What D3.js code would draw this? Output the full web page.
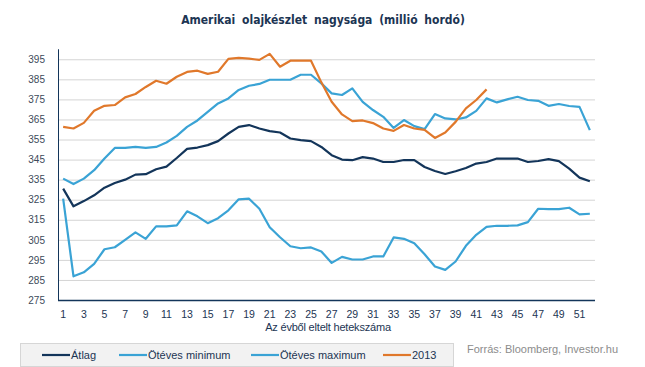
<!DOCTYPE html>
<html>
<head>
<meta charset="utf-8">
<script src="https://cdn.jsdelivr.net/npm/d3@7"></script>
<style>
  body { margin: 0; background: #fff; }
  svg { display: block; font-family: "Liberation Sans", Arial, sans-serif; }
</style>
</head>
<body>
<svg width="645" height="367"></svg>
<script>
var weeks = d3.range(1, 53);
var xTickWeeks = [1, 3, 5, 7, 9, 11, 13, 15, 17, 19, 21, 23, 25, 27, 29, 31, 33, 35, 37, 39, 41, 43, 45, 47, 49, 51];
var yTicks = [275, 285, 295, 305, 315, 325, 335, 345, 355, 365, 375, 385, 395];

var atlag = [330.5, 321.7, 324.3, 327.2, 331, 333.3, 335, 337.5, 337.7, 340.2, 341.5, 345.8, 350.3,
  351, 352.2, 354.2, 358, 361.3, 362.2, 360.5, 359.2, 358.5, 355.5, 354.7, 354.2, 351.3,
  347.2, 345, 344.7, 346.2, 345.5, 343.8, 343.8, 344.8, 344.7, 341.3, 339.3, 337.8, 339.2,
  340.8, 343, 343.8, 345.5, 345.5, 345.5, 343.8, 344.3, 345.2, 344.2, 340.5, 336, 334.2];

var minimum = [325.5, 286.8, 288.8, 293, 300.3, 301.3, 305, 308.7, 305.5, 311.7, 311.7, 312.2, 319.2,
  316.7, 313.3, 315.8, 319.7, 325.2, 325.5, 320.5, 311.3, 306.3, 301.8, 300.8, 301.2, 299.2,
  293.5, 296.5, 295.2, 295.2, 296.7, 296.7, 306.2, 305.5, 303.3, 297.8, 291.7, 290, 294.2,
  302, 307.5, 311.5, 312, 312, 312.2, 313.8, 320.5, 320.3, 320.3, 321, 317.7, 318];

var maximum = [335.5, 332.8, 335.5, 339.7, 345.5, 350.8, 350.8, 351.3, 350.8, 351.3, 353.5, 356.8, 361.3,
  364.5, 368.8, 373, 375.5, 379.7, 381.8, 382.7, 384.8, 384.8, 384.8, 387.3, 387.3, 383,
  378, 377.2, 380.5, 373.8, 369.7, 366.3, 360.8, 364.7, 361.7, 360.2, 367.7, 365.5, 365,
  366, 369.3, 375.5, 373.5, 375, 376.3, 374.7, 374.3, 371.8, 372.7, 371.7, 371.3, 359.7];

var ev2013 = [361.3, 360.5, 363.3, 369.3, 371.8, 372.2, 376, 377.7, 381.2, 384.3, 382.8, 386.3, 388.7,
  389.3, 387.7, 388.8, 395.2, 395.7, 395.3, 394.7, 397.7, 391.3, 394.3, 394.3, 394.3, 383.5,
  373.8, 367.5, 364.2, 364.5, 363.2, 360.5, 359.3, 362.2, 360.5, 359.8, 355.8, 358.5, 363.8,
  370.5, 374.7, 380];

var seriesNames = ["Átlag", "Ötéves minimum", "Ötéves maximum", "2013"];
var seriesColors = ["#13355a", "#3aa3d5", "#3aa3d5", "#e0782b"];

function drawChart() {
  var svg = d3.select("svg");
  var textColor = "#1c3553";

  var left = 58, right = 595, top = 49.25, bottom = 300;

  var x = d3.scaleBand().domain(weeks).range([left, right]);
  var y = d3.scaleLinear().domain([275, 400]).range([bottom, top]);

  // title
  svg.append("text")
    .attr("x", 323)
    .attr("y", 24)
    .attr("text-anchor", "middle")
    .style("font-family", "'DejaVu Sans Condensed', 'DejaVu Sans', sans-serif")
    .style("font-weight", "bold")
    .style("font-size", "12px")
    .style("word-spacing", "3px")
    .attr("fill", "#1c3553")
    .text("Amerikai olajkészlet nagysága (millió hordó)");

  // gridlines
  svg.append("g")
    .selectAll("line")
    .data(yTicks.filter(function(d) { return d > 275; }))
    .enter().append("line")
      .attr("x1", left)
      .attr("x2", right)
      .attr("y1", function(d) { return y(d) + 0.5; })
      .attr("y2", function(d) { return y(d) + 0.5; })
      .attr("stroke", "#d4d4d4")
      .attr("stroke-width", 1);

  // y axis
  var yAxis = svg.append("g")
    .attr("transform", "translate(" + left + ",0)")
    .call(d3.axisLeft(y).tickValues(yTicks).tickSize(0).tickPadding(13));
  yAxis.select(".domain").remove();
  yAxis.selectAll("text")
    .style("font-size", "10px")
    .attr("fill", "#3b4a5a");

  // x axis
  var xAxis = svg.append("g")
    .attr("transform", "translate(0," + bottom + ")")
    .call(d3.axisBottom(x).tickValues(xTickWeeks).tickSize(0).tickPadding(11));
  xAxis.select(".domain").remove();
  xAxis.selectAll("text")
    .style("font-size", "10.5px")
    .attr("fill", textColor);

  // axis lines
  svg.append("line")
    .attr("x1", left + 0.5).attr("x2", left + 0.5)
    .attr("y1", top).attr("y2", bottom + 0.5)
    .attr("stroke", "#13355a").attr("stroke-width", 1);
  svg.append("line")
    .attr("x1", left).attr("x2", right)
    .attr("y1", bottom + 0.5).attr("y2", bottom + 0.5)
    .attr("stroke", "#13355a").attr("stroke-width", 1.3);

  svg.append("text")
    .attr("x", 328)
    .attr("y", 331)
    .attr("text-anchor", "middle")
    .style("font-size", "11px")
    .style("letter-spacing", "-0.2px")
    .attr("fill", textColor)
    .text("Az évből eltelt hetekszáma");

  // series
  var line = d3.line()
    .x(function(d, i) { return x(weeks[i]) + x.bandwidth() / 2; })
    .y(function(d) { return y(d); });

  var allSeries = [atlag, minimum, maximum, ev2013];
  svg.append("g")
    .selectAll("path")
    .data([minimum, maximum, atlag, ev2013])
    .enter().append("path")
      .attr("d", function(d) { return line(d); })
      .attr("fill", "none")
      .attr("stroke", function(d) { return seriesColors[allSeries.indexOf(d)]; })
      .attr("stroke-width", 2.2)
      .attr("stroke-linejoin", "round");

  // legend
  svg.append("rect")
    .attr("x", 20.5)
    .attr("y", 343.5)
    .attr("width", 433)
    .attr("height", 23)
    .attr("fill", "#f2f2f2")
    .attr("stroke", "#d6d6d6");

  var legendX = [42, 119, 251, 383];
  var leg = svg.append("g")
    .selectAll("g")
    .data(seriesNames)
    .enter().append("g")
      .attr("transform", function(d, i) { return "translate(" + legendX[i] + ",355)"; });
  leg.append("line")
    .attr("x1", 0).attr("x2", 28)
    .attr("stroke", function(d, i) { return seriesColors[i]; })
    .attr("stroke-width", 2.2);
  leg.append("text")
    .attr("x", 29)
    .attr("dy", "0.35em")
    .style("font-size", "11px")
    .attr("fill", textColor)
    .text(function(d) { return d; });

  svg.append("text")
    .attr("x", 467)
    .attr("y", 353)
    .style("font-size", "11px")
    .attr("fill", "#8c8c8c")
    .text("Forrás: Bloomberg, Investor.hu");
}

drawChart();
</script>
</body>
</html>
